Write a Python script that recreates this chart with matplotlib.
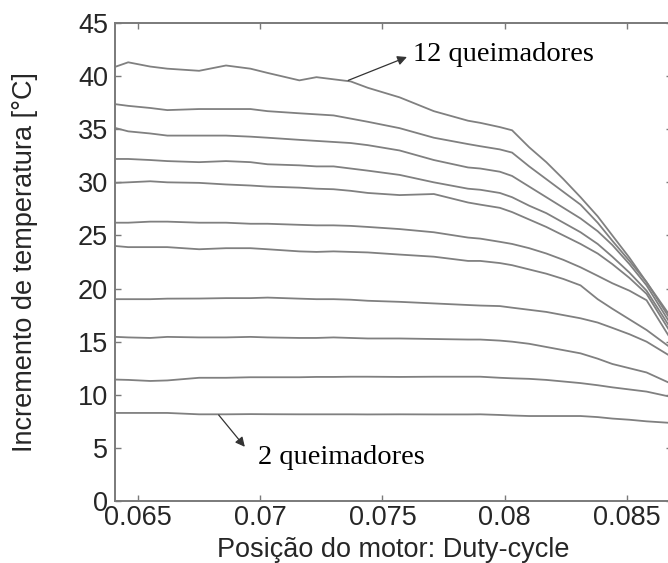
import numpy as np
import matplotlib
matplotlib.use("Agg")
from matplotlib import pyplot as plt

# duty-cycle positions where the curves were read
duty = [0.0641, 0.0646, 0.0655, 0.0662, 0.0675, 0.0686, 0.0696, 0.0703,
        0.0716, 0.0723, 0.0730, 0.0737, 0.0744, 0.0757, 0.0771, 0.0785,
        0.0790, 0.0798, 0.0803, 0.0810, 0.0817, 0.0824, 0.0831, 0.0838,
        0.0844, 0.0851, 0.0858, 0.0868]

# temperature increment [°C], one curve per number of burners
q12 = [40.9, 41.3, 40.9, 40.7, 40.5, 41.0, 40.7, 40.3, 39.6, 39.9, 39.7, 39.5,
       38.9, 38.0, 36.7, 35.8, 35.6, 35.2, 34.9, 33.3, 31.9, 30.3, 28.6, 26.8,
       25.0, 22.9, 20.6, 17.3]
q11 = [37.35, 37.2, 37.0, 36.8, 36.9, 36.9, 36.9, 36.7, 36.5, 36.4, 36.3, 36.0,
       35.7, 35.1, 34.2, 33.6, 33.4, 33.1, 32.8, 31.5, 30.3, 29.1, 27.9, 26.2,
       24.5, 22.6, 20.6, 17.0]
q10 = [35.1, 34.8, 34.6, 34.4, 34.4, 34.4, 34.3, 34.2, 34.0, 33.9, 33.8, 33.7,
       33.5, 33.0, 32.1, 31.4, 31.3, 31.0, 30.6, 29.6, 28.6, 27.6, 26.6, 25.4,
       24.1, 22.3, 20.3, 16.6]
q9 = [32.2, 32.2, 32.1, 32.0, 31.9, 32.0, 31.9, 31.7, 31.6, 31.5, 31.5, 31.3,
      31.1, 30.7, 30.0, 29.4, 29.3, 29.0, 28.6, 27.8, 27.1, 26.2, 25.3, 24.2,
      23.0, 21.5, 19.8, 16.2]
q8 = [29.95, 30.0, 30.1, 30.0, 29.95, 29.8, 29.7, 29.6, 29.5, 29.4, 29.35, 29.2,
      29.0, 28.8, 28.9, 28.1, 27.9, 27.6, 27.2, 26.5, 25.8, 25.0, 24.2, 23.3,
      22.3, 21.0, 19.5, 15.8]
q7 = [26.2, 26.2, 26.3, 26.3, 26.2, 26.2, 26.1, 26.1, 26.0, 25.95, 25.95, 25.9,
      25.8, 25.6, 25.3, 24.8, 24.7, 24.4, 24.2, 23.8, 23.3, 22.7, 22.0, 21.2,
      20.5, 19.8, 18.9, 15.2]
q6 = [24.0, 23.9, 23.9, 23.9, 23.7, 23.8, 23.8, 23.7, 23.5, 23.45, 23.5, 23.45,
      23.4, 23.2, 23.0, 22.6, 22.6, 22.4, 22.2, 21.8, 21.4, 20.9, 20.3, 19.0,
      18.1, 17.1, 16.1, 14.4]
q5 = [19.0, 19.0, 19.0, 19.05, 19.06, 19.1, 19.1, 19.15, 19.05, 19.0, 19.0, 18.95,
      18.85, 18.75, 18.6, 18.45, 18.4, 18.35, 18.2, 18.0, 17.8, 17.5, 17.2, 16.8,
      16.3, 15.7, 15.0, 13.6]
q4 = [15.45, 15.4, 15.35, 15.45, 15.4, 15.4, 15.45, 15.4, 15.35, 15.35, 15.4, 15.35,
      15.3, 15.3, 15.25, 15.2, 15.2, 15.1, 15.0, 14.8, 14.5, 14.2, 13.9, 13.4,
      12.9, 12.5, 12.1, 11.05]
q3 = [11.43, 11.4, 11.3, 11.35, 11.6, 11.6, 11.65, 11.65, 11.65, 11.68, 11.68, 11.7,
      11.7, 11.68, 11.7, 11.7, 11.7, 11.6, 11.55, 11.5, 11.4, 11.25, 11.1, 10.9,
      10.7, 10.5, 10.3, 9.8]
q2 = [8.29, 8.29, 8.29, 8.29, 8.16, 8.16, 8.18, 8.17, 8.16, 8.16, 8.16, 8.16,
      8.15, 8.16, 8.15, 8.15, 8.16, 8.1, 8.05, 8.0, 8.0, 8.0, 8.0, 7.9,
      7.76, 7.65, 7.5, 7.35]

curves = [q2, q3, q4, q5, q6, q7, q8, q9, q10, q11, q12]

xticks = [0.065, 0.07, 0.075, 0.08, 0.085]
xtick_labels = ['0.065', '0.07', '0.075', '0.08', '0.085']
yticks = [0, 5, 10, 15, 20, 25, 30, 35, 40, 45]

label_top = '12 queimadores'
label_bottom = '2 queimadores'


def main():
	fig = plt.figure(figsize=(6.68, 5.63), dpi=100)
	# right spine falls just outside the picture, like the cropped original
	ax = fig.add_axes([115/668, 62/563, 556.5/668, 478/563])

	for c in curves:
		ax.plot(duty, c, color='#808080', linewidth=1.3)

	ax.set_xlim(0.06406, 0.08682)
	ax.set_ylim(0, 45)
	ax.set_xticks(xticks)
	ax.set_xticklabels(xtick_labels)
	ax.set_yticks(yticks)

	for s in ax.spines.values():
		s.set_color('#7a7a7a')
		s.set_linewidth(1.4)

	ax.tick_params(direction='in', top=True, right=True, length=4, width=1.0,
	               color='#7a7a7a', labelsize=19.5, labelcolor='#262626')
	ax.tick_params(axis='y', pad=5)
	ax.tick_params(axis='x', pad=3)
	for t in ax.get_xticklabels() + ax.get_yticklabels():
		t.set_family('Liberation Sans')

	ax.set_xlabel('Posição do motor: Duty-cycle', fontsize=19.5,
	              family='Liberation Sans', color='#262626', labelpad=4)
	ax.set_ylabel('Incremento de temperatura [°C]', fontsize=19.5,
	              family='Liberation Sans', color='#262626')
	ax.yaxis.set_label_coords(-0.138, 0.5)

	# annotations
	ax.annotate('', xy=(0.0760, 41.8), xytext=(0.0736, 39.6),
	            arrowprops=dict(arrowstyle='-|>', color='#333333', lw=0.9,
	                            mutation_scale=14, shrinkA=0, shrinkB=0))
	ax.text(0.07625, 42.0, label_top, family='Liberation Serif',
	        fontsize=20.5, ha='left', va='center', color='black')

	ax.annotate('', xy=(0.06937, 5.1), xytext=(0.0683, 8.1),
	            arrowprops=dict(arrowstyle='-|>', color='#333333', lw=0.9,
	                            mutation_scale=14, shrinkA=0, shrinkB=0))
	ax.text(0.06990, 4.1, label_bottom, family='Liberation Serif',
	        fontsize=20.5, ha='left', va='center', color='black')

	fig.savefig('out.png', dpi=100)


main()
